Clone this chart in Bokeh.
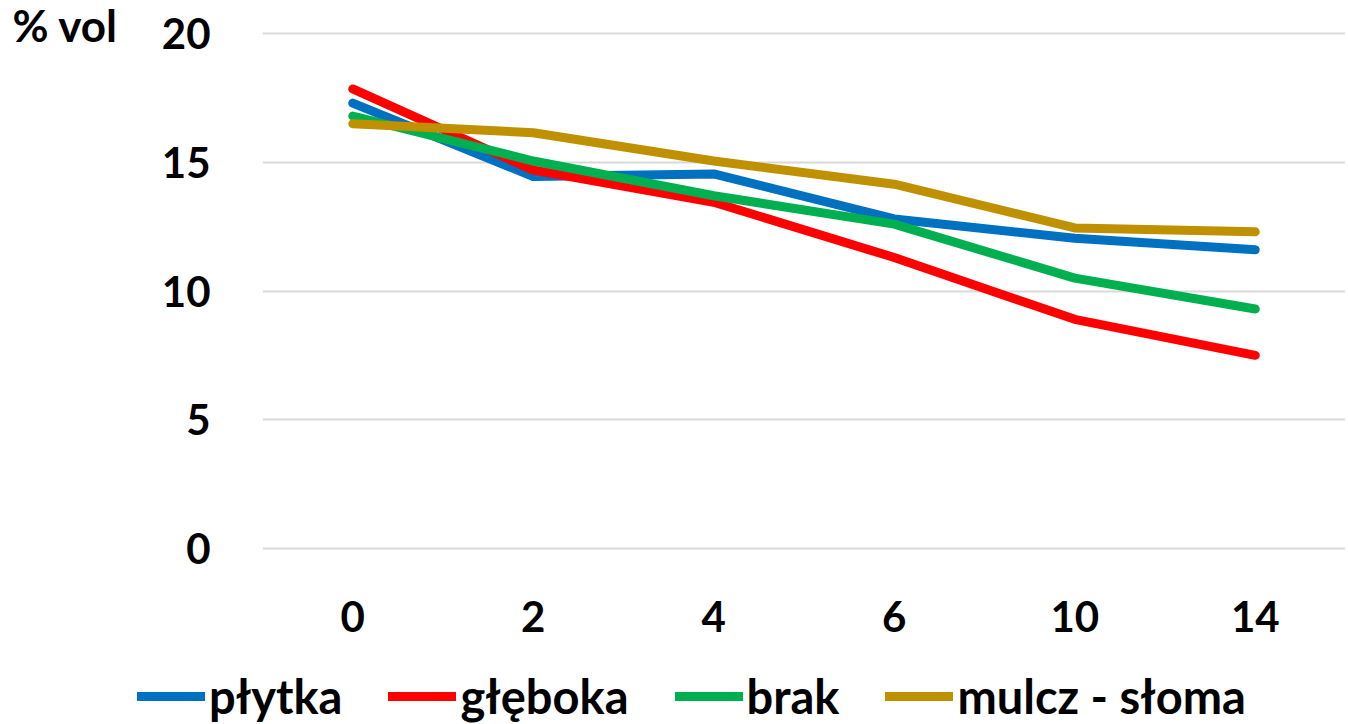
from bokeh.plotting import figure
from bokeh.models import Range1d, Legend, LegendItem, FactorRange
from bokeh.layouts import column, row
from bokeh.embed import file_html
from bokeh.resources import INLINE

days = ["0", "2", "4", "6", "10", "14"]
plytka = [17.3, 14.45, 14.55, 12.8, 12.05, 11.6]
gleboka = [17.85, 14.7, 13.45, 11.3, 8.9, 7.5]
brak = [16.8, 15.05, 13.7, 12.6, 10.5, 9.3]
mulcz = [16.5, 16.15, 15.05, 14.15, 12.45, 12.3]
series_names = ["płytka", "głęboka", "brak", "mulcz - słoma"]
colors = ["#0070C0", "#FF0000", "#00B050", "#BF9000"]
y_ticks = [0, 5, 10, 15, 20]
y_label = "% vol"

FONT = "Lato"
W = 1345

# main chart
p = figure(width=W, height=653, x_range=FactorRange(*days), y_range=Range1d(-0.2, 20.2),
           output_backend="svg", toolbar_location=None,
           min_border_left=262, min_border_right=0, min_border_top=28, min_border_bottom=100)
p.outline_line_color = None
p.background_fill_color = "white"
p.border_fill_color = "white"

all_series = [plytka, gleboka, brak, mulcz]
for vals, c in zip(all_series, colors):
    p.line(days, vals, line_color=c, line_width=9, line_join="round", line_cap="round")

p.xgrid.grid_line_color = None
p.ygrid.grid_line_color = "#D9D9D9"
p.ygrid.grid_line_width = 2
p.yaxis.ticker = y_ticks
p.yaxis.axis_line_color = None
p.yaxis.major_tick_line_color = None
p.yaxis.minor_tick_line_color = None
p.yaxis.major_label_text_font = FONT
p.yaxis.major_label_text_font_style = "bold"
p.yaxis.major_label_text_font_size = "42px"
p.yaxis.major_label_text_color = "black"
p.yaxis.major_label_standoff = 46

p.xaxis.axis_line_color = None
p.xaxis.major_tick_line_color = None
p.xaxis.minor_tick_line_color = None
p.xaxis.major_label_text_font = FONT
p.xaxis.major_label_text_font_style = "bold"
p.xaxis.major_label_text_font_size = "42px"
p.xaxis.major_label_text_color = "black"
p.xaxis.major_label_standoff = 41

p.title.text = y_label
p.title.align = "left"
p.title.offset = -250
p.title.text_font = FONT
p.title.text_font_style = "bold"
p.title.text_font_size = "44px"
p.title.text_color = "black"
p.title.standoff = -45

# legend strip (series drawn outside its visible range, only the legend shows)
q = figure(width=W, height=71, x_range=FactorRange(*days), y_range=Range1d(100, 101),
           output_backend="svg", toolbar_location=None,
           min_border_left=0, min_border_right=0, min_border_top=0, min_border_bottom=0)
q.outline_line_color = None
q.axis.visible = False
q.grid.visible = False
items = []
for name, vals, c in zip(series_names, all_series, colors):
    r = q.line(days, vals, line_color=c, line_width=9, line_cap="round")
    items.append(LegendItem(label=name, renderers=[r]))
legend = Legend(items=items, orientation="horizontal", location=(137, 0),
                label_text_font=FONT, label_text_font_style="bold",
                label_text_font_size="47px", label_text_color="black",
                glyph_width=68, glyph_height=30, label_standoff=4, spacing=46,
                padding=0, margin=0, border_line_color=None, background_fill_alpha=0)
q.add_layout(legend)

open("out.html", "w").write(file_html(column(p, row(q), spacing=0), INLINE))
